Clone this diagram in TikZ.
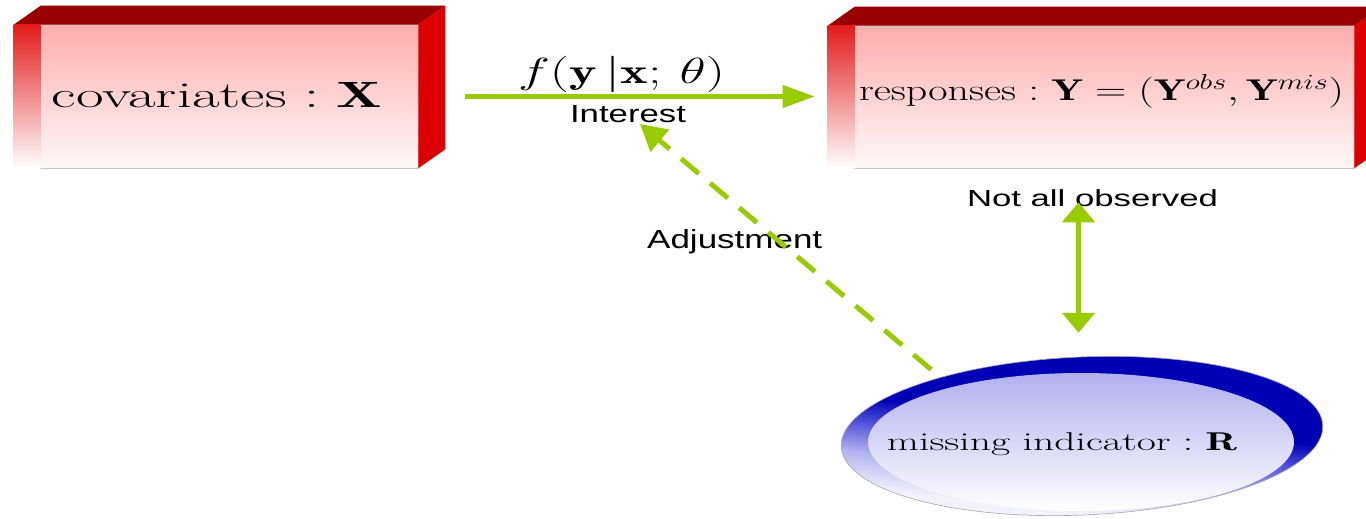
\documentclass[tikz,border=0pt]{standalone}
\usepackage{fontspec}
\usepackage{graphicx}
\usetikzlibrary{arrows.meta,calc,shapes.geometric}
\newfontfamily\labelfont{Liberation Sans}

\definecolor{arrowgreen}{HTML}{99CC00}
\definecolor{topred}{HTML}{990000}
\definecolor{sidered}{HTML}{DD0000}
\definecolor{facepink}{HTML}{FFADAD}
\definecolor{faceend}{HTML}{FFF8F8}
\definecolor{stripred}{HTML}{E41B1B}
\definecolor{ringblue}{HTML}{0000B4}
\definecolor{midblue}{HTML}{5A5AE0}
\definecolor{paleblue}{HTML}{B4B4F0}
\definecolor{ghostblue}{HTML}{F2F2FC}
\definecolor{innerblue}{HTML}{B0B0F0}

% rim of the ellipse: dark over most of the top, fading out towards the bottom
\pgfdeclareverticalshading{rimshade}{100bp}{%
  color(0bp)=(ghostblue); color(31bp)=(ghostblue); color(40bp)=(paleblue);
  color(47bp)=(midblue); color(54bp)=(ringblue); color(100bp)=(ringblue)}

% scale a text to a given width and (reference) height
\newcommand\fitto[4]{\resizebox*{#1}{#2}{\vphantom{#3}\smash{#4}}}

\tikzset{
  boxface/.style={rectangle, inner sep=0pt, top color=facepink, bottom color=faceend,
                  draw=black!22, line width=0.6pt},
  boxtext/.style={inner sep=0pt, font=\fontsize{24pt}{28pt}\selectfont},
  sanslabel/.style={inner sep=0pt, font=\fontsize{24pt}{28pt}\selectfont\labelfont},
  greenline/.style={draw=arrowgreen, line width=4pt},
}

\begin{document}
\begin{tikzpicture}[x=1pt, y=-1pt]
\fill[white] (0,0) rectangle (1366,519);
\useasboundingbox (0,0) rectangle (1366,519);

% front faces of the two blocks
\node[boxface, minimum width=404pt, minimum height=143pt] (cov) at (216,96.5) {};
\node[boxface, minimum width=526pt, minimum height=142pt] (resp) at (1091,97) {};

% top, side and left strip of each block
\foreach \b in {cov,resp}{
  \fill[topred] (\b.north west) -- ++(27,-19) -- ($(\b.north east)+(27,-19)$) -- (\b.north east) -- cycle;
  \fill[sidered] (\b.north east) -- ++(27,-19) -- ($(\b.south east)+(27,-19)$) -- (\b.south east) -- cycle;
  \shade[top color=stripred, bottom color=white] (\b.north west) rectangle ($(\b.south west)+(27,0)$);
}

% ellipse with its shaded rim
\node[ellipse, minimum width=482pt, minimum height=158pt, inner sep=0pt, rotate=2.5,
      shade, shading=rimshade, shading angle=-6,
      draw=black!35, line width=0.6pt] (ell) at (1082,436) {};
\shade[top color=innerblue, bottom color=white]
  ($(ell.center)+(-1,6)$) ellipse [x radius=213pt, y radius=69pt];

% texts inside the shapes
\node[boxtext, anchor=base] (covtext) at (217,107)
  {\fitto{330pt}{25pt}{X}{$\mbox{covariates} : \mathbf{X}$}};
\node[boxtext, anchor=base] (resptext) at (1101.5,100.5)
  {\fitto{485pt}{30pt}{(}{$\mbox{responses} : \mathbf{Y} = (\mathbf{Y}^{obs}, \mathbf{Y}^{mis})$}};
\node[boxtext, anchor=base] (elltext) at (1062,450)
  {\fitto{350pt}{18pt}{R}{$\mbox{missing indicator} : \mathbf{R}$}};

% connector labels
\node[boxtext, anchor=base] (model) at (621.5,83.3)
  {\fitto{207pt}{35pt}{(}{$f(\mathbf{y}\,|\mathbf{x};\,\theta)$}};
\node[sanslabel, anchor=base] (interest) at (628,122) {\fitto{116pt}{17pt}{I}{Interest}};
\node[sanslabel, anchor=base] (notall) at (1092.5,206) {\fitto{251pt}{16pt}{N}{Not all observed}};
\node[sanslabel, anchor=base west] (adjust) at (647,248) {\fitto{175pt}{18pt}{A}{Adjustment}};

% connectors
\draw[greenline, -{Triangle[length=32pt,width=22pt]}, shorten <=47pt, shorten >=13pt]
  (cov.east) -- (cov.east -| resp.west);
\draw[greenline, line width=5pt,
      {Triangle[length=20pt,width=32pt]}-{Triangle[length=20pt,width=32pt]},
      shorten <=34pt, shorten >=24pt]
  (ell.north |- resp.south) -- (ell.north);
\coordinate (adjtip) at (640,124);
\draw[greenline, line width=5pt, dash pattern=on 23pt off 15pt,
      -{Triangle[length=26pt,width=28pt]}, shorten <=12pt]
  (ell.155) -- (adjtip);
\end{tikzpicture}
\end{document}
